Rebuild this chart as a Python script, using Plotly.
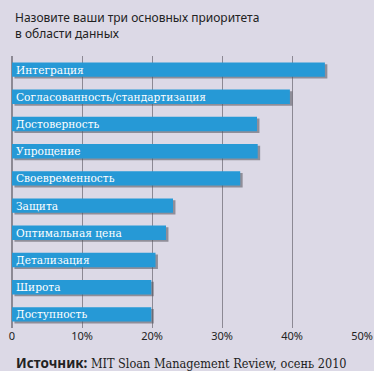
import plotly.graph_objects as go

categories = ["Интеграция", "Согласованность/стандартизация", "Достоверность", "Упрощение",
              "Своевременность", "Защита", "Оптимальная цена", "Детализация", "Широта", "Доступность"]
values = [44.7, 39.7, 35.0, 35.1, 32.6, 23.0, 22.0, 20.5, 19.9, 19.9]
tick_vals = [0, 10, 20, 30, 40, 50]
tick_text = ["0", "10%", "20%", "30%", "40%", "50%"]

BG = "#dcd9e6"
BAR = "#2699d6"

fig = go.Figure()
# shadow
fig.add_trace(go.Bar(y=categories, x=values, base=0.35, orientation="h", width=0.53, offset=-0.20,
                     marker=dict(color="rgba(80,80,90,0.55)", line_width=0), hoverinfo="skip"))
fig.add_trace(go.Bar(y=categories, x=values, orientation="h", width=0.53, offset=-0.265,
                     marker=dict(color=BAR, line_width=0)))

for c in categories:
    fig.add_annotation(x=0, y=c, text=c, showarrow=False, xanchor="left", xshift=2,
                       font=dict(family="DejaVu Serif Condensed", size=11.8, color="white"))

fig.add_annotation(xref="paper", yref="paper", x=0, y=1, yshift=49, xanchor="left", yanchor="top",
                   align="left", showarrow=False, xshift=1,
                   text="Назовите ваши три основных приоритета<br>в области данных",
                   font=dict(family="Noto Sans", size=12, color="#222"))
fig.add_annotation(xref="paper", yref="paper", x=0, y=0, yshift=-24, xanchor="left", yanchor="top",
                   align="left", showarrow=False, xshift=2,
                   text="<b>Источник:</b> <span style='font-family:DejaVu Serif Condensed;font-size:12.6px'>MIT Sloan Management Review, осень 2010</span>",
                   font=dict(family="Noto Sans", size=13.5, color="#222"))

fig.update_layout(
    width=374, height=371, barmode="overlay", showlegend=False,
    paper_bgcolor=BG, plot_bgcolor=BG,
    margin=dict(l=12, r=12, t=56, b=43, autoexpand=False),
    xaxis=dict(range=[0, 50], tickvals=tick_vals, ticktext=tick_text, showgrid=True, automargin=False,
               gridcolor="#8c8994", gridwidth=1, zeroline=True, zerolinecolor="#8c8994",
               tickfont=dict(family="Noto Sans", size=11, color="#222"), fixedrange=True),
    yaxis=dict(autorange="reversed", showticklabels=False, showgrid=False, fixedrange=True,
               automargin=False),
)
fig.write_html("out.html", config={"displayModeBar": False},
               post_script="document.body.style.margin='0';document.body.style.overflow='hidden';")
